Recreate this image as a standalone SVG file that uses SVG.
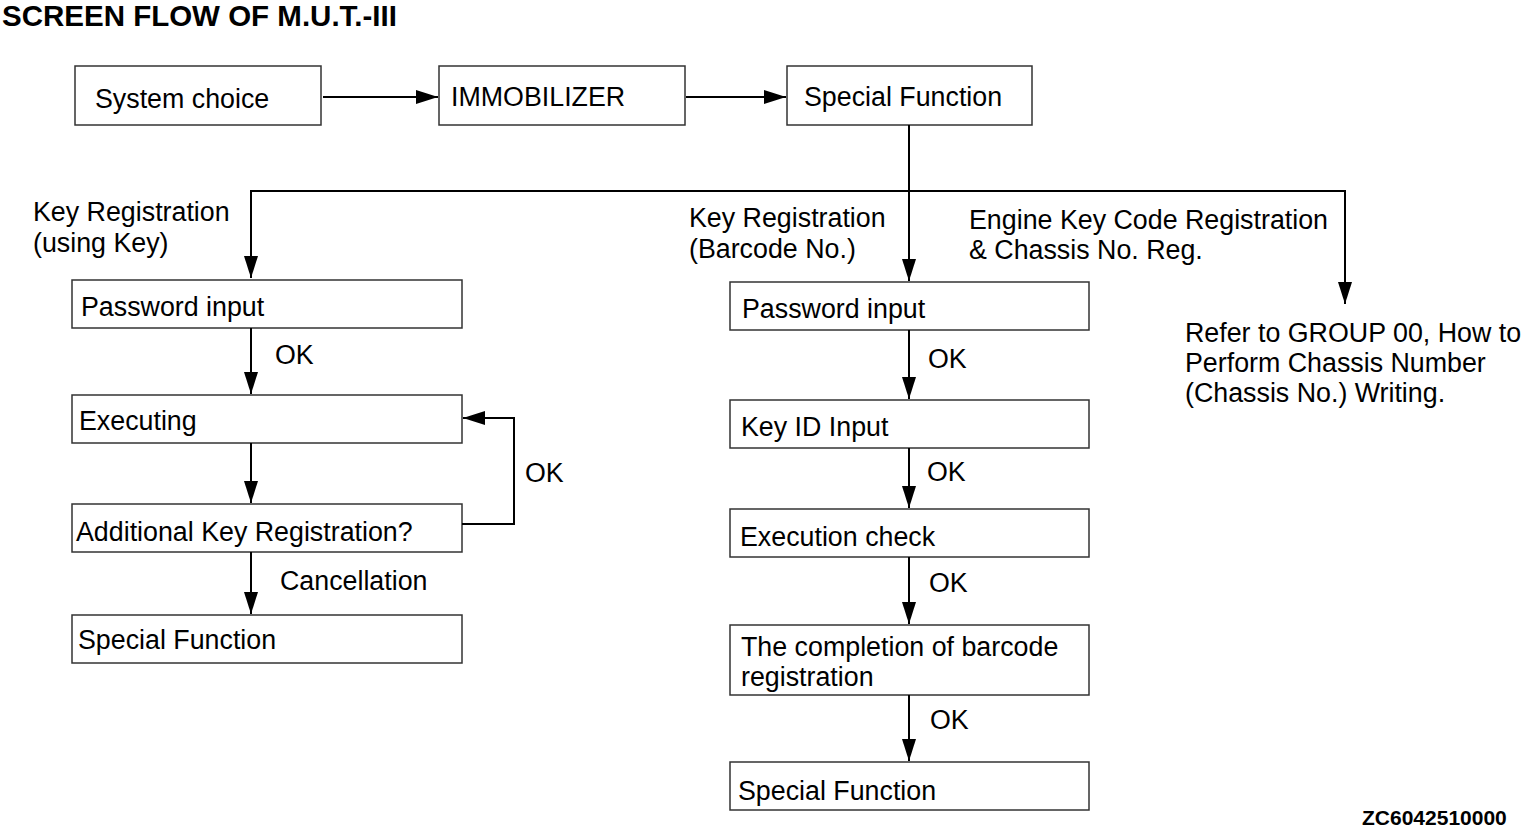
<svg xmlns="http://www.w3.org/2000/svg" width="1533" height="834" viewBox="0 0 1533 834">
<style>
text{font-family:"Liberation Sans",Arial,sans-serif;font-size:26.8px;fill:#000}
.title{font-weight:bold;font-size:29.5px}
.code{font-weight:bold;font-size:21px}
.box{fill:#fff;stroke:#333;stroke-width:1.5}
.ln{fill:none;stroke:#000;stroke-width:2}
</style>
<defs>
<marker id="ah" markerUnits="userSpaceOnUse" markerWidth="24" markerHeight="16" refX="22" refY="8" orient="auto">
<path d="M0,1 L22,8 L0,15 z" fill="#000"/>
</marker>
</defs>
<rect width="1533" height="834" fill="#fff"/>
<text class="title" x="2" y="26">SCREEN FLOW OF M.U.T.-III</text>

<g id="n-system"><rect class="box" x="75" y="66" width="246" height="59"/><text x="95" y="108">System choice</text></g>
<g id="n-immo"><rect class="box" x="439" y="66" width="246" height="59"/><text x="451" y="106">IMMOBILIZER</text></g>
<g id="n-special-top"><rect class="box" x="787" y="66" width="245" height="59"/><text x="804" y="106">Special Function</text></g>

<g id="n-l-pass"><rect class="box" x="72" y="280" width="390" height="48"/><text x="81" y="316">Password input</text></g>
<g id="n-l-exec"><rect class="box" x="72" y="395" width="390" height="48"/><text x="79" y="430">Executing</text></g>
<g id="n-l-add"><rect class="box" x="72" y="504" width="390" height="48"/><text x="76" y="541">Additional Key Registration?</text></g>
<g id="n-l-special"><rect class="box" x="72" y="615" width="390" height="48"/><text x="78" y="649">Special Function</text></g>

<g id="n-m-pass"><rect class="box" x="730" y="282" width="359" height="48"/><text x="742" y="318">Password input</text></g>
<g id="n-m-keyid"><rect class="box" x="730" y="400" width="359" height="48"/><text x="741" y="436">Key ID Input</text></g>
<g id="n-m-check"><rect class="box" x="730" y="509" width="359" height="48"/><text x="740" y="546">Execution check</text></g>
<g id="n-m-complete"><rect class="box" x="730" y="625" width="359" height="70"/><text x="741" y="656">The completion of barcode</text><text x="741" y="686">registration</text></g>
<g id="n-m-special"><rect class="box" x="730" y="762" width="359" height="48"/><text x="738" y="800">Special Function</text></g>

<g id="n-refer"><text x="1185" y="342">Refer to GROUP 00, How to</text><text x="1185" y="372">Perform Chassis Number</text><text x="1185" y="402">(Chassis No.) Writing.</text></g>

<g id="connectors">
<line class="ln" x1="323" y1="97" x2="438" y2="97" marker-end="url(#ah)"/>
<line class="ln" x1="686" y1="97" x2="786" y2="97" marker-end="url(#ah)"/>
<line class="ln" x1="909" y1="125" x2="909" y2="191"/>
<polyline class="ln" points="251,191 1345,191 1345,304" marker-end="url(#ah)"/>
<line class="ln" x1="251" y1="190" x2="251" y2="278" marker-end="url(#ah)"/>
<line class="ln" x1="909" y1="191" x2="909" y2="281" marker-end="url(#ah)"/>
<line class="ln" x1="251" y1="328" x2="251" y2="394" marker-end="url(#ah)"/>
<line class="ln" x1="251" y1="443" x2="251" y2="503" marker-end="url(#ah)"/>
<line class="ln" x1="251" y1="552" x2="251" y2="614" marker-end="url(#ah)"/>
<polyline class="ln" points="462,524 514,524 514,418 463,418" marker-end="url(#ah)"/>
<line class="ln" x1="909" y1="330" x2="909" y2="399" marker-end="url(#ah)"/>
<line class="ln" x1="909" y1="448" x2="909" y2="508" marker-end="url(#ah)"/>
<line class="ln" x1="909" y1="557" x2="909" y2="624" marker-end="url(#ah)"/>
<line class="ln" x1="909" y1="695" x2="909" y2="761" marker-end="url(#ah)"/>
</g>

<g id="labels">
<text x="33" y="221">Key Registration</text>
<text x="33" y="252">(using Key)</text>
<text x="689" y="227">Key Registration</text>
<text x="689" y="258">(Barcode No.)</text>
<text x="969" y="229">Engine Key Code Registration</text>
<text x="969" y="259">&amp; Chassis No. Reg.</text>
<text x="275" y="364">OK</text>
<text x="525" y="482">OK</text>
<text x="280" y="590">Cancellation</text>
<text x="928" y="368">OK</text>
<text x="927" y="481">OK</text>
<text x="929" y="592">OK</text>
<text x="930" y="729">OK</text>
</g>
<text class="code" x="1362" y="825">ZC6042510000</text>
</svg>
